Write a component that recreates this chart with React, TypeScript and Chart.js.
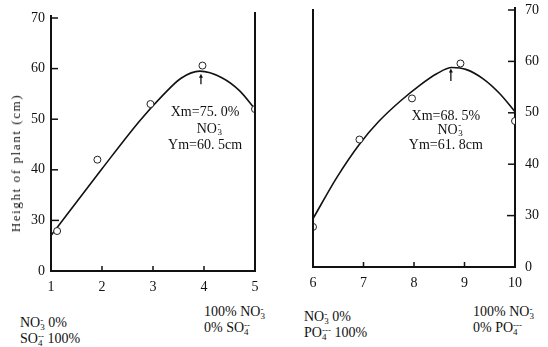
import React, { useEffect, useRef } from 'react';
import { Chart, registerables } from 'chart.js';

Chart.register(...registerables);

const FONT = "'Liberation Serif', 'DejaVu Serif', serif";
const INK = '#111';

// y axis has a break below 30: the lowest tick (20) carries the label "0"
const yTickValues = [20, 30, 40, 50, 60, 70];
const yTickLabels = ['0', '30', '40', '50', '60', '70'];

// ---- left panel (NO3- vs SO4--) ----
const leftXTicks = [1, 2, 3, 4, 5];
const leftPointX = [1.12, 1.91, 2.95, 3.97, 5.0];
const leftPointY = [27.9, 42.0, 53.0, 60.6, 52.0];
const leftCurveX = [1, 2, 2.75, 3.2, 3.55, 3.92, 4.35, 4.7, 5];
const leftCurveY = [27, 40.2, 49.8, 54.8, 58.1, 59.5, 58.2, 55.6, 52];
const leftPeak = [3.94, 56.9, 59.0]; // x, arrow tail y, arrow head y
const leftNoteXY = [4.02, 51.4, 47.9, 44.9];
const leftNoteText = ['Xm=75. 0%', 'Ym=60. 5cm'];

// ---- right panel (NO3- vs PO4---) ----
const rightXTicks = [6, 7, 8, 9, 10];
const rightPointX = [6.0, 6.92, 7.96, 8.92, 10.0];
const rightPointY = [27.8, 44.8, 52.8, 59.6, 48.4];
const rightCurveX = [6, 6.47, 6.92, 7.3, 7.72, 8.12, 8.45, 8.75, 9.04, 9.37, 9.7, 10];
const rightCurveY = [29.4, 37.4, 43.9, 48.3, 52.2, 55.4, 57.6, 58.8, 58.4, 56.6, 53.7, 50.2];
const rightPeak = [8.73, 56.2, 58.6];
const rightNoteXY = [8.63, 49.3, 46.6, 43.7];
const rightNoteText = ['Xm=68. 5%', 'Ym=61. 8cm'];

type Spec = {
  side: 'left' | 'right';
  xTicks: number[];
  px: number[];
  py: number[];
  cx: number[];
  cy: number[];
  peak: number[];
  noteXY: number[];
  noteText: string[];
  width: number;
  height: number;
  padding: { left: number; top: number; right: number; bottom: number };
  yWidth: number;
  xHeight: number;
  yPad: number;
};

function drawIon(ctx: CanvasRenderingContext2D, base: string, sub: string, charge: string, cx: number, cy: number) {
  ctx.font = `14px ${FONT}`;
  const wb = ctx.measureText(base).width;
  ctx.font = `9px ${FONT}`;
  const ws = Math.max(ctx.measureText(sub).width, ctx.measureText(charge).width);
  const x0 = cx - (wb + ws) / 2;
  ctx.textAlign = 'left';
  ctx.textBaseline = 'middle';
  ctx.font = `14px ${FONT}`;
  ctx.fillText(base, x0, cy);
  ctx.font = `9px ${FONT}`;
  ctx.fillText(sub, x0 + wb + 0.5, cy + 3);
  ctx.fillText(charge, x0 + wb + 0.5, cy - 5);
}

function buildConfig(s: Spec): any {
  const decor = {
    id: 'decor',
    afterDraw(chart: any) {
      const ctx: CanvasRenderingContext2D = chart.ctx;
      const xs = chart.scales.x;
      const ys = chart.scales.y;
      const ca = chart.chartArea;
      ctx.save();
      ctx.strokeStyle = INK;
      ctx.fillStyle = INK;
      ctx.lineCap = 'butt';
      // opposite vertical frame line
      ctx.lineWidth = 2;
      const farX = s.side === 'left' ? xs.getPixelForValue(s.xTicks[s.xTicks.length - 1]) : xs.getPixelForValue(s.xTicks[0]);
      ctx.beginPath();
      ctx.moveTo(farX, ca.top - (s.side === 'left' ? 6 : 1));
      ctx.lineTo(farX, ca.bottom);
      ctx.stroke();
      // axis extension above the top tick
      const axX = s.side === 'left' ? ca.left : ca.right;
      ctx.beginPath();
      ctx.moveTo(axX, ca.top - 3);
      ctx.lineTo(axX, ca.top + 1);
      ctx.stroke();
      // inward y ticks
      ctx.lineWidth = 1.5;
      yTickValues.slice(1).forEach((v) => {
        const y = ys.getPixelForValue(v);
        const dir = s.side === 'left' ? 1 : -1;
        ctx.beginPath();
        ctx.moveTo(axX, y);
        ctx.lineTo(axX + dir * (v === 30 ? 8 : 7), y);
        ctx.stroke();
      });
      // upward x ticks
      s.xTicks.slice(1, -1).forEach((v) => {
        const x = xs.getPixelForValue(v);
        ctx.beginPath();
        ctx.moveTo(x, ca.bottom);
        ctx.lineTo(x, ca.bottom - 5);
        ctx.stroke();
      });
      // peak arrow
      const axp = xs.getPixelForValue(s.peak[0]);
      const ay0 = ys.getPixelForValue(s.peak[1]);
      const ay1 = ys.getPixelForValue(s.peak[2]);
      ctx.lineWidth = 1.3;
      ctx.beginPath();
      ctx.moveTo(axp, ay0);
      ctx.lineTo(axp, ay1 + 3);
      ctx.stroke();
      ctx.beginPath();
      ctx.moveTo(axp, ay1);
      ctx.lineTo(axp - 2, ay1 + 4);
      ctx.lineTo(axp + 2, ay1 + 4);
      ctx.closePath();
      ctx.fill();
      // annotation
      const nx = xs.getPixelForValue(s.noteXY[0]);
      ctx.font = `14px ${FONT}`;
      ctx.textAlign = 'center';
      ctx.textBaseline = 'middle';
      ctx.fillText(s.noteText[0], nx, ys.getPixelForValue(s.noteXY[1]));
      drawIon(ctx, 'NO', '3', '-', nx + 4, ys.getPixelForValue(s.noteXY[2]));
      ctx.font = `14px ${FONT}`;
      ctx.textAlign = 'center';
      ctx.textBaseline = 'middle';
      ctx.fillText(s.noteText[1], nx, ys.getPixelForValue(s.noteXY[3]));
      ctx.restore();
    },
  };

  return {
    type: 'scatter',
    data: {
      datasets: [
        {
          type: 'scatter',
          data: s.px.map((x, i) => ({ x, y: s.py[i] })),
          pointRadius: 3.5,
          pointBackgroundColor: '#fff',
          pointBorderColor: '#222',
          pointBorderWidth: 1,
          order: 0,
        },
        {
          type: 'line',
          data: s.cx.map((x, i) => ({ x, y: s.cy[i] })),
          borderColor: INK,
          borderWidth: 1.6,
          pointRadius: 0,
          cubicInterpolationMode: 'monotone',
          fill: false,
          order: 1,
        },
      ],
    },
    options: {
      responsive: false,
      animation: false,
      devicePixelRatio: 1,
      layout: { padding: s.padding },
      plugins: { legend: { display: false }, tooltip: { enabled: false } },
      scales: {
        x: {
          type: 'linear',
          position: 'bottom',
          min: s.xTicks[0],
          max: s.xTicks[s.xTicks.length - 1],
          afterBuildTicks: (sc: any) => {
            sc.ticks = s.xTicks.map((v) => ({ value: v }));
          },
          afterFit: (sc: any) => {
            sc.height = s.xHeight;
            sc.paddingLeft = 0;
            sc.paddingRight = 0;
          },
          grid: { drawOnChartArea: false, drawTicks: false },
          border: { display: true, color: INK, width: 2 },
          ticks: { color: INK, font: { family: FONT, size: 14 }, padding: 8, maxRotation: 0 },
        },
        y: {
          type: 'linear',
          position: s.side,
          min: 20,
          max: 70,
          afterBuildTicks: (sc: any) => {
            sc.ticks = yTickValues.map((v) => ({ value: v }));
          },
          afterFit: (sc: any) => {
            sc.width = s.yWidth;
            sc.paddingTop = 0;
            sc.paddingBottom = 0;
          },
          grid: { drawOnChartArea: false, drawTicks: false },
          border: { display: true, color: INK, width: 2 },
          ticks: {
            color: INK,
            font: { family: FONT, size: 14 },
            padding: s.yPad,
            callback: (v: number) => yTickLabels[yTickValues.indexOf(v)] ?? '',
          },
        },
      },
    },
    plugins: [decor],
  };
}

const leftSpec: Spec = {
  side: 'left',
  xTicks: leftXTicks,
  px: leftPointX,
  py: leftPointY,
  cx: leftCurveX,
  cy: leftCurveY,
  peak: leftPeak,
  noteXY: leftNoteXY,
  noteText: leftNoteText,
  width: 285,
  height: 300,
  padding: { left: 0, top: 18, right: 30, bottom: 0 },
  yWidth: 51,
  xHeight: 29,
  yPad: 6,
};

const rightSpec: Spec = {
  side: 'right',
  xTicks: rightXTicks,
  px: rightPointX,
  py: rightPointY,
  cx: rightCurveX,
  cy: rightCurveY,
  peak: rightPeak,
  noteXY: rightNoteXY,
  noteText: rightNoteText,
  width: 263,
  height: 300,
  padding: { left: 28, top: 10, right: 0, bottom: 0 },
  yWidth: 33,
  xHeight: 33,
  yPad: 10,
};

function Panel({ spec, left }: { spec: Spec; left: number }) {
  const ref = useRef<HTMLCanvasElement>(null);
  useEffect(() => {
    const chart = new Chart(ref.current as HTMLCanvasElement, buildConfig(spec));
    return () => chart.destroy();
  }, [spec]);
  return (
    <canvas
      ref={ref}
      width={spec.width}
      height={spec.height}
      style={{ position: 'absolute', left, top: 0, width: spec.width, height: spec.height }}
    />
  );
}

function Ion({ base, sub, charge }: { base: string; sub: string; charge: string }) {
  return (
    <span>
      {base}
      <span
        style={{
          display: 'inline-block',
          verticalAlign: '-3px',
          fontSize: '9px',
          lineHeight: '7px',
          textAlign: 'left',
        }}
      >
        <span style={{ display: 'block' }}>{charge}</span>
        <span style={{ display: 'block' }}>{sub}</span>
      </span>
    </span>
  );
}

const labelStyle = (left: number, top: number): React.CSSProperties => ({
  position: 'absolute',
  left,
  top,
  fontFamily: FONT,
  fontSize: 14,
  lineHeight: '16px',
  color: INK,
  whiteSpace: 'nowrap',
});

export default function App() {
  return (
    <div
      style={{
        position: 'fixed',
        left: 0,
        top: 0,
        width: 548,
        height: 347,
        background: '#fff',
        overflow: 'hidden',
      }}
    >
      <Panel spec={leftSpec} left={0} />
      <Panel spec={rightSpec} left={285} />
      <div
        style={{
          position: 'absolute',
          left: 16,
          top: 163,
          transform: 'translate(-50%, -50%) rotate(-90deg)',
          fontFamily: FONT,
          fontSize: 13,
          letterSpacing: '1.6px',
          whiteSpace: 'nowrap',
          color: INK,
        }}
      >
        Height of plant (cm)
      </div>
      <div style={labelStyle(20, 315)}>
        <Ion base="NO" sub="3" charge="-" /> 0%
        <br />
        <Ion base="SO" sub="4" charge="--" /> 100%
      </div>
      <div style={labelStyle(204, 304)}>
        100% <Ion base="NO" sub="3" charge="-" />
        <br />
        0% <Ion base="SO" sub="4" charge="--" />
      </div>
      <div style={labelStyle(304, 309)}>
        <Ion base="NO" sub="3" charge="-" /> 0%
        <br />
        <Ion base="PO" sub="4" charge="---" /> 100%
      </div>
      <div style={labelStyle(473, 304)}>
        100% <Ion base="NO" sub="3" charge="-" />
        <br />
        0% <Ion base="PO" sub="4" charge="---" />
      </div>
    </div>
  );
}
